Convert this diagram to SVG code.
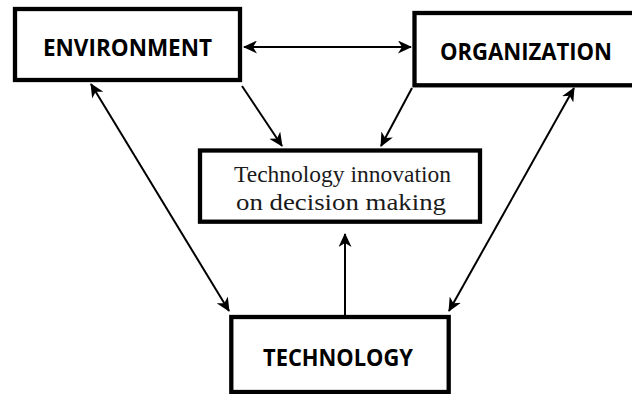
<svg xmlns="http://www.w3.org/2000/svg" width="632" height="394" viewBox="0 0 632 394">
<style>
.box{fill:#fff;stroke:#000;stroke-width:4.3;}
.lbl{font-family:"Open Sans","Liberation Sans",sans-serif;font-weight:bold;font-size:23.5px;fill:#000;text-anchor:middle;}
.ser{font-family:"Liberation Serif","DejaVu Serif",serif;font-size:23px;fill:#1a1a1a;text-anchor:middle;}
.con line{stroke:#000;stroke-width:2;fill:none;}
</style>
<defs>
<marker id="ah" markerUnits="userSpaceOnUse" markerWidth="15" markerHeight="13" viewBox="0 0 15 13" refX="13" refY="6.5" orient="auto-start-reverse">
<path d="M0,0 L14,6.5 L0,13 L4,6.5 z" fill="#000"/>
</marker>
</defs>
<rect width="632" height="394" fill="#fff"/>
<g id="environment">
<rect class="box" x="15" y="9" width="225" height="71"/>
<text class="lbl" x="127.5" y="55.5" textLength="169" lengthAdjust="spacingAndGlyphs">ENVIRONMENT</text>
</g>
<g id="organization">
<rect class="box" x="414.5" y="13" width="232" height="72.3"/>
<text class="lbl" x="526" y="59.5" textLength="172" lengthAdjust="spacingAndGlyphs">ORGANIZATION</text>
</g>
<g id="innovation">
<rect class="box" x="200" y="150.5" width="280" height="71.2"/>
<text class="ser" x="342.5" y="182" textLength="217" lengthAdjust="spacingAndGlyphs">Technology innovation</text>
<text class="ser" x="341" y="210" textLength="210" lengthAdjust="spacingAndGlyphs">on decision making</text>
</g>
<g id="technology">
<rect class="box" x="231.3" y="317" width="217.4" height="75"/>
<text class="lbl" x="338" y="365.5" textLength="150" lengthAdjust="spacingAndGlyphs">TECHNOLOGY</text>
</g>
<g class="con" id="connectors">
<line x1="244" y1="47" x2="411" y2="47" marker-start="url(#ah)" marker-end="url(#ah)"/>
<line x1="242" y1="86" x2="282" y2="146" marker-end="url(#ah)"/>
<line x1="412" y1="88" x2="381" y2="146" marker-end="url(#ah)"/>
<line x1="91" y1="84" x2="229" y2="311" marker-start="url(#ah)" marker-end="url(#ah)"/>
<line x1="574" y1="88" x2="449" y2="311" marker-start="url(#ah)" marker-end="url(#ah)"/>
<line x1="345" y1="315" x2="345" y2="234" marker-end="url(#ah)"/>
</g>
</svg>
